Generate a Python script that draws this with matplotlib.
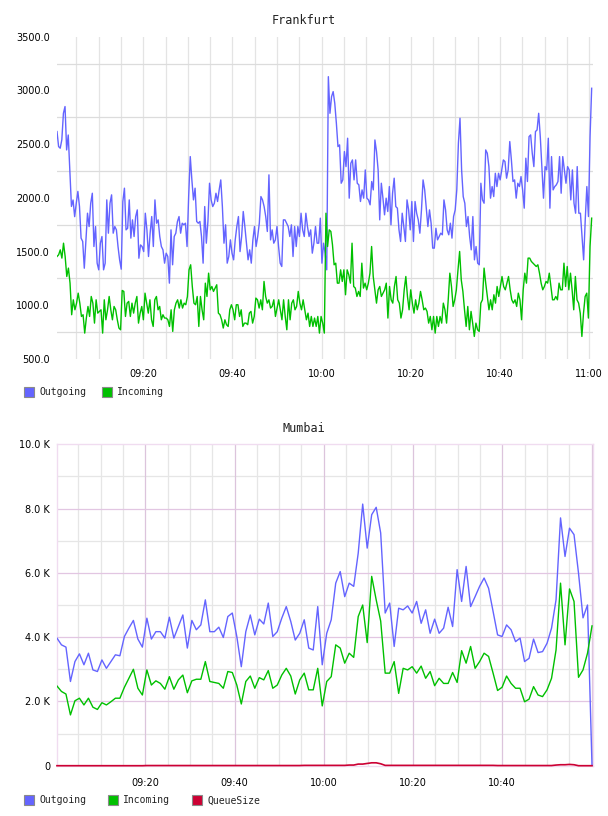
import numpy as np
import matplotlib
matplotlib.use("Agg")
import matplotlib.pyplot as plt
from matplotlib.patches import Rectangle

# ---------------- data ----------------
series_names_fra = ["Outgoing", "Incoming"]
series_names_mum = ["Outgoing", "Incoming", "QueueSize"]
colors = {"Outgoing": "#6464ff", "Incoming": "#00c000", "QueueSize": "#cc0033"}

# Frankfurt: minutes after 09:00 for first/last sample
fra_start_min = 0.65
fra_end_min = 120.55
fra_outgoing = [
    2617, 2477, 2462, 2540, 2787, 2850, 2446, 2585, 2260, 1920, 1980, 1825, 1950, 2060, 1920, 1625, 1594, 1345, 1610, 1857,
    1733, 1950, 2043, 1547, 1733, 1392, 1330, 1578, 1640, 1330, 1392, 1981, 1671, 1950, 2028, 1671, 1733, 1702, 1547, 1423,
    1336, 1965, 2090, 1702, 1717, 1981, 1625, 1795, 1640, 1826, 1888, 1438, 1562, 1547, 1500, 1857, 1702, 1454, 1671, 1826,
    1547, 1981, 1764, 1795, 1640, 1547, 1516, 1392, 1485, 1454, 1206, 1702, 1377, 1640, 1671, 1779, 1826, 1671, 1764, 1749,
    1764, 1547, 2012, 2384,
    2167, 1981, 2090, 1780, 1764, 1780, 1640, 1392, 1919, 1578, 1780, 2136, 1981, 1919, 1950, 2043, 1966, 2074, 2167, 1919,
    1578, 1749, 1392, 1454, 1609, 1485, 1423, 1609, 1733, 1826, 1500, 1640, 1873, 1733, 1578, 1423, 1516, 1392, 1609, 1733,
    1547, 1640, 1764, 2012, 1981, 1919, 1826, 1687, 2214, 1609, 1702, 1578, 1609, 1733, 1547, 1392, 1361, 1795, 1795, 1764,
    1733, 1640, 1749, 1454, 1733, 1547, 1733, 1640, 1857, 1702, 1640, 1857, 1733, 1640, 1702, 1485, 1578, 1733, 1578, 1578,
    1811, 1392, 1578, 1485, 1330, 3128,
    2787, 2942, 2989, 2880, 2694, 2477, 2493, 2136, 2167, 2431, 2291, 2555, 1997, 2322, 2353, 2167, 2353, 2136, 2121, 1966,
    2074, 1997, 2260, 1997, 1981, 1935, 2152, 2074, 2539, 2431, 2260, 1795, 2136, 1997, 1842, 1997, 1873, 2105, 1749, 2043,
    2183, 1919, 1904, 1702, 1594, 1857, 1733, 1594, 1981, 1888, 1702, 1966, 1594, 1966, 1857, 1795, 1671, 1888, 2167, 2074,
    1904, 1733, 1888, 1764, 1532, 1532, 1717, 1609, 1640, 1671, 1656, 1981, 1888, 1702, 1656, 1764, 1625, 1826, 1888, 2074,
    2508, 2741,
    2260, 2012, 1950, 1733, 1826, 1640, 1516, 1826, 1423, 1547, 1392, 1377, 2136, 1981, 1950, 2446, 2415, 2291, 1997, 2105,
    2012, 2229, 2105, 2229, 2167, 2260, 2353, 2338, 2183, 2260, 2524, 2353, 2152, 2167, 1997, 2136, 2105, 2198, 2074, 1904,
    2369, 2152, 2570, 2586, 2415, 2291, 2617, 2632, 2787, 2570, 2291, 1997, 2291, 2260, 2555, 1904, 2384, 2074, 2105, 2121,
    2152, 2384, 2043, 2384, 2260, 2136, 2291, 2260, 1981, 2260, 1950, 1857, 2291, 1857, 1857, 1640, 1423, 1795, 2105, 1826,
    2570, 3020,
]
fra_incoming = [
    1454, 1470, 1516, 1439, 1578, 1454, 1268, 1346, 1206, 912, 1051, 958, 1020, 1113, 1020, 896, 912, 741, 881, 989,
    896, 1082, 1020, 834, 1051, 927, 943, 958, 741, 1051, 865, 958, 1082, 958, 865, 989, 958, 865, 788, 772,
    1138, 1129, 896, 1020, 1036, 896, 1020, 927, 1020, 1082, 834, 927, 989, 865, 1113, 1020, 927, 1051, 865, 803,
    1051, 1082, 958, 989, 865, 912, 881, 881, 865, 803, 958, 757, 958, 1020, 1051, 974, 1051, 974, 1020, 1005,
    1082, 1330, 1377,
    1175, 1020, 1005, 1082, 803, 1082, 958, 865, 1206, 1082, 1299, 1144, 1175, 1129, 1160, 1191, 927, 912, 865, 788,
    865, 819, 803, 958, 1005, 958, 865, 1005, 1005, 896, 958, 803, 834, 834, 819, 927, 943, 834, 896, 1067,
    1051, 974, 1051, 958, 1222, 1082, 1020, 1051, 974, 989, 1051, 896, 974, 1051, 958, 865, 1051, 896, 772, 1051,
    865, 1020, 1051, 958, 989, 1129, 1020, 958, 1051, 958, 865, 927, 803, 896, 803, 881, 803, 896, 741, 896,
    834, 741, 1857,
    1547, 1702, 1687, 1563, 1377, 1392, 1206, 1206, 1330, 1222, 1330, 1098, 1330, 1284, 1206, 1578, 1175, 1160, 1082, 1129,
    1082, 1392, 1160, 1206, 1144, 1206, 1299, 1547, 1268, 1144, 1020, 1144, 1175, 1082, 1113, 1144, 1206, 881, 1175, 1051,
    1020, 1175, 1268, 1051, 1020, 881, 958, 1144, 1268, 1082, 958, 1144, 1020, 927, 1051, 958, 1020, 1129, 1051, 958,
    974, 943, 834, 896, 772, 896, 741, 896, 803, 896, 834, 1020, 958, 834, 1051, 1299, 1175, 989, 1051, 1144,
    1330, 1501,
    1237, 1129, 958, 803, 989, 772, 943, 834, 710, 834, 772, 757, 1020, 1051, 1346, 1206, 1082, 958, 1051, 958,
    1098, 1020, 1175, 1082, 1175, 1268, 1175, 1144, 1206, 1268, 1144, 1051, 1020, 1051, 989, 1113, 1051, 865, 1144, 1299,
    1206, 1439, 1439, 1408, 1392, 1377, 1361, 1377, 1299, 1206, 1144, 1175, 1222, 1206, 1299, 1175, 1051, 1051, 1082, 1051,
    1206, 1144, 1144, 1392, 1175, 1361, 1144, 1299, 1144, 958, 1268, 1051, 1020, 927, 710, 927, 1082, 1113, 881, 1547,
    1811,
]

# Mumbai: one sample per minute, values in thousands
mum_start_min = 0.2
mum_end_min = 120.1
mum_outgoing_k = [
    3.97, 3.76, 3.69, 2.62, 3.24, 3.48, 3.14, 3.50, 2.98, 2.93, 3.29, 3.03, 3.24, 3.45, 3.42, 4.02, 4.28, 4.52, 3.94, 3.69,
    4.59, 3.94, 4.17, 4.17, 3.97, 4.62, 3.97, 4.33, 4.69, 3.66, 4.52, 4.23, 4.38, 5.16, 4.17, 4.17, 4.31, 3.99, 4.64, 4.75,
    4.02, 3.08, 4.17, 4.69, 4.07, 4.56, 4.41, 5.06, 4.02, 4.17, 4.59, 4.95, 4.49, 3.91, 4.12,
    4.54, 3.66, 3.60, 4.95, 3.14, 4.12, 4.54, 5.68, 6.04, 5.26, 5.68, 5.58, 6.61, 8.14, 6.77, 7.81, 8.04, 7.24, 4.75, 5.06,
    3.71, 4.90, 4.85, 4.97, 4.75, 5.11, 4.43, 4.85, 4.12, 4.56, 4.12, 4.28, 4.93, 4.33, 6.10, 5.11, 6.20, 4.95, 5.26, 5.58,
    5.84, 5.52, 4.80, 4.07, 4.02, 4.38, 4.23, 3.86, 3.97, 3.24, 3.34, 3.94, 3.52, 3.55, 3.81, 4.28, 5.16, 7.71, 6.51, 7.39,
    7.19, 5.99, 4.60, 5.00, 0.0,
]
mum_incoming_k = [
    2.48, 2.31, 2.23, 1.58, 2.02, 2.10, 1.89, 2.10, 1.82, 1.75, 1.96, 1.89, 1.99, 2.10, 2.10, 2.44, 2.72, 3.00, 2.41, 2.20,
    2.98, 2.51, 2.64, 2.56, 2.38, 2.77, 2.38, 2.67, 2.82, 2.27, 2.64, 2.69, 2.69, 3.24, 2.62, 2.59, 2.56, 2.41, 2.93, 2.90,
    2.51, 1.92, 2.62, 2.79, 2.41, 2.74, 2.67, 2.96, 2.41, 2.51, 2.82, 3.03, 2.79, 2.23, 2.67,
    2.88, 2.36, 2.36, 3.03, 1.86, 2.62, 2.77, 3.76, 3.66, 3.19, 3.50, 3.37, 4.64, 5.00, 3.83, 5.89, 5.16, 4.50, 2.88, 2.88,
    3.24, 2.25, 3.03, 2.98, 3.08, 2.88, 3.10, 2.72, 2.93, 2.49, 2.72, 2.56, 2.56, 2.90, 2.59, 3.58, 3.19, 3.71, 3.03, 3.24,
    3.50, 3.40, 2.88, 2.34, 2.44, 2.79, 2.56, 2.41, 2.41, 1.99, 2.07, 2.46, 2.20, 2.15, 2.36, 2.72, 3.60, 5.68, 3.76, 5.50,
    5.11, 2.75, 2.98, 3.50, 4.35,
]
mum_queue_k = [
    0.0, 0.0, 0.0, 0.0, 0.0, 0.0, 0.0, 0.0, 0.0, 0.0, 0.0, 0.0, 0.0, 0.0, 0.0, 0.0, 0.0, 0.0, 0.0, 0.0,
    0.005, 0.005, 0.005, 0.005, 0.005, 0.005, 0.005, 0.005, 0.005, 0.005, 0.005, 0.005, 0.005, 0.005, 0.005, 0.005, 0.005, 0.005, 0.005, 0.005,
    0.005, 0.005, 0.005, 0.005, 0.005, 0.005, 0.005, 0.005, 0.005, 0.005, 0.005, 0.005, 0.005, 0.005, 0.005,
    0.01, 0.01, 0.01, 0.01, 0.01, 0.01, 0.01, 0.01, 0.01, 0.01, 0.02, 0.02, 0.05, 0.05, 0.07, 0.09, 0.09, 0.06, 0.01, 0.01,
    0.01, 0.01, 0.01, 0.01, 0.01, 0.01, 0.01, 0.01, 0.01, 0.01, 0.01, 0.01, 0.01, 0.01, 0.01, 0.01, 0.01, 0.01, 0.01, 0.01,
    0.01, 0.01, 0.01, 0.005, 0.005, 0.005, 0.005, 0.005, 0.005, 0.005, 0.005, 0.005, 0.005, 0.005, 0.005, 0.005, 0.02, 0.03, 0.03, 0.04,
    0.03, 0.0, 0.0, 0.0, 0.0,
]

fra_xtick_labels = ["09:20", "09:40", "10:00", "10:20", "10:40", "11:00"]
mum_xtick_labels = ["09:20", "09:40", "10:00", "10:20", "10:40"]
fra_yticks = [500, 1000, 1500, 2000, 2500, 3000, 3500]
mum_yticks_k = [0, 2, 4, 6, 8, 10]


def to_min(label):
    h, m = label.split(":")
    return (int(h) - 9) * 60 + int(m)


# ---------------- figure ----------------
W, H = 608, 816
fig = plt.figure(figsize=(W / 100, H / 100), dpi=100)
fig.patch.set_facecolor("white")

MONO = "DejaVu Sans Mono"
SANS = "DejaVu Sans"


def fbox(x0, y0, x1, y1):
    return [x0 / W, 1 - y1 / H, (x1 - x0) / W, (y1 - y0) / H]


# ---- Frankfurt ----
ax1 = fig.add_axes(fbox(57, 36.7, 593, 359))
t_out = np.linspace(fra_start_min, fra_end_min, len(fra_outgoing))
t_in = np.linspace(fra_start_min, fra_end_min, len(fra_incoming))
ax1.plot(t_out, fra_outgoing, color=colors["Outgoing"], lw=1.0, zorder=3)
ax1.plot(t_in, fra_incoming, color=colors["Incoming"], lw=1.0, zorder=3)
ax1.set_xlim(0.65, 120.85)
ax1.set_ylim(500, 3500)
ax1.set_xticks([to_min(l) for l in fra_xtick_labels])
ax1.set_xticklabels(fra_xtick_labels, fontsize=7, family=SANS)
ax1.set_xticks(np.arange(5, 121, 5), minor=True)
ax1.set_yticks(fra_yticks)
ax1.set_yticklabels(["%.1f" % v for v in fra_yticks], fontsize=7, family=SANS)
ax1.set_yticks(np.arange(750, 3500, 500), minor=True)
ax1.grid(False)
for v in np.arange(5, 121, 5):
    ax1.axvline(v, color="#e4e4e4", lw=0.9, zorder=1)
for v in np.arange(750, 3500, 500):
    ax1.axhline(v, color="#dcdcdc", lw=0.9, zorder=1)
ax1.tick_params(which="both", length=0)
ax1.tick_params(axis="y", pad=5)
ax1.tick_params(axis="x", pad=7)
for s in ax1.spines.values():
    s.set_visible(False)
fig.text(304 / W, 1 - 20 / H, "Frankfurt", ha="center", va="center", fontsize=8.5, family=MONO, color="#222222")

# ---- Mumbai ----
ax2 = fig.add_axes(fbox(57, 444.3, 593.3, 765.7))
m_out = np.linspace(mum_start_min, mum_end_min, len(mum_outgoing_k))
m_in = np.linspace(mum_start_min, mum_end_min, len(mum_incoming_k))
m_q = np.linspace(mum_start_min, mum_end_min, len(mum_queue_k))
ax2.plot(m_out, np.array(mum_outgoing_k) * 1000, color=colors["Outgoing"], lw=1.0, zorder=3)
ax2.plot(m_in, np.array(mum_incoming_k) * 1000, color=colors["Incoming"], lw=1.0, zorder=3)
ax2.plot(m_q, np.array(mum_queue_k) * 1000, color=colors["QueueSize"], lw=1.2, zorder=4, clip_on=False)
ax2.set_xlim(0.21, 120.39)
ax2.set_ylim(0, 10000)
ax2.set_xticks([to_min(l) for l in mum_xtick_labels])
ax2.set_xticklabels(mum_xtick_labels, fontsize=7, family=SANS)
ax2.set_yticks([v * 1000 for v in mum_yticks_k])
ax2.set_yticklabels(["0" if v == 0 else "%.1f K" % v for v in mum_yticks_k], fontsize=7, family=SANS)
for v in np.arange(5, 121, 5):
    major = (v % 20 == 0)
    ax2.axvline(v, color="#dcc4dc" if major else "#e6e6e6", lw=0.9, zorder=1 + major)
for v in range(1, 10):
    major = (v % 2 == 0)
    ax2.axhline(v * 1000, color="#e2c6e2" if major else "#e6e6e6", lw=0.9, zorder=1 + major)
ax2.tick_params(which="both", length=0)
ax2.tick_params(axis="y", pad=5)
ax2.tick_params(axis="x", pad=9)
for s in ax2.spines.values():
    s.set_color("#f0dcf0")
    s.set_linewidth(1.0)
fig.text(304 / W, 1 - 429 / H, "Mumbai", ha="center", va="center", fontsize=8.5, family=MONO, color="#222222")


# ---- legends ----
def legend_row(names, xs, yc):
    for name, x in zip(names, xs):
        fig.patches.append(Rectangle((x / W, 1 - (yc + 5) / H), 10 / W, 10 / H,
                                     transform=fig.transFigure, facecolor=colors[name],
                                     edgecolor="#8a8a8a", lw=0.8))
        fig.text((x + 15) / W, 1 - yc / H, name, ha="left", va="center",
                 fontsize=7, family=MONO, color="#222222")


legend_row(series_names_fra, [24, 102], 392.3)
legend_row(series_names_mum, [24, 108, 192], 800.3)

fig.savefig("out.png", dpi=100, facecolor="white")
